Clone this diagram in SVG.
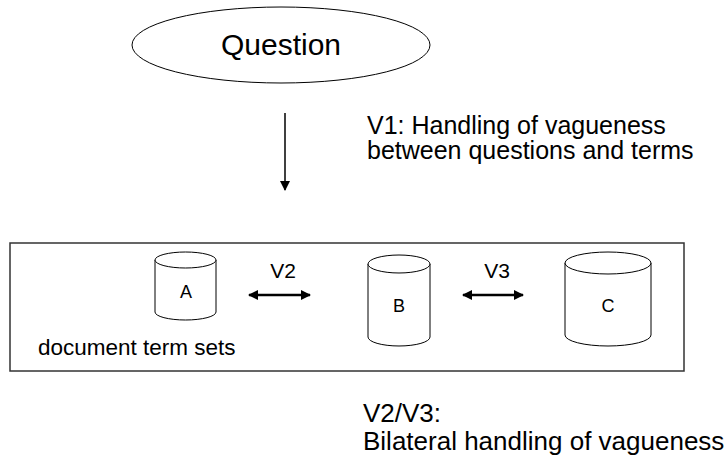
<svg xmlns="http://www.w3.org/2000/svg" width="725" height="459" viewBox="0 0 725 459">
<style>
text{font-family:"Liberation Sans",Arial,sans-serif;fill:#000}
.shape{fill:#fff;stroke:#000;stroke-width:1}
.lbl{font-size:18px;text-anchor:middle}
.v{font-size:21px;text-anchor:middle}
.big{font-size:25px}
.big2{font-size:26px}
</style>
<defs>
<marker id="ah" viewBox="0 0 10 10" refX="9" refY="5" markerWidth="10" markerHeight="10" markerUnits="userSpaceOnUse" orient="auto-start-reverse">
<path d="M0,0 L10,5 L0,10 z" fill="#000"/>
</marker>
<marker id="ah2" viewBox="0 0 10 10" refX="9" refY="5" markerWidth="4" markerHeight="4" orient="auto-start-reverse">
<path d="M0,0 L10,5 L0,10 z" fill="#000"/>
</marker>
</defs>
<g id="question">
<ellipse class="shape" cx="281" cy="45" rx="149" ry="38"/>
<text x="281" y="55" font-size="30" text-anchor="middle">Question</text>
</g>
<g id="v1label">
<text class="big" x="367" y="134">V1: Handling of vagueness</text>
<text class="big" x="367" y="159">between questions and terms</text>
</g>
<g id="termsets">
<rect x="10" y="243" width="674" height="128" fill="#fff" stroke="#333" stroke-width="1.5"/>
<text x="38" y="355" font-size="22.5">document term sets</text>
</g>
<g id="A">
<path class="shape" d="M155,260 A30.5,8 0 0 1 216,260 L216,312 A30.5,8 0 0 1 155,312 Z"/>
<path class="shape" fill="none" d="M155,260 A30.5,8 0 0 0 216,260"/>
<text class="lbl" x="186" y="298">A</text>
</g>
<g id="B">
<path class="shape" d="M368,264 A31,9 0 0 1 430,264 L430,337 A31,9 0 0 1 368,337 Z"/>
<path class="shape" fill="none" d="M368,264 A31,9 0 0 0 430,264"/>
<text class="lbl" x="399" y="312">B</text>
</g>
<g id="C">
<path class="shape" d="M565,263 A43,11 0 0 1 651,263 L651,335 A43,11 0 0 1 565,335 Z"/>
<path class="shape" fill="none" d="M565,263 A43,11 0 0 0 651,263"/>
<text class="lbl" x="608" y="312">C</text>
</g>
<g id="connectors">
<line x1="285" y1="113" x2="285" y2="190" stroke="#000" stroke-width="1.5" marker-end="url(#ah)"/>
<line x1="249" y1="295" x2="310" y2="295" stroke="#000" stroke-width="2.5" marker-start="url(#ah2)" marker-end="url(#ah2)"/>
<line x1="463" y1="295" x2="523" y2="295" stroke="#000" stroke-width="2.5" marker-start="url(#ah2)" marker-end="url(#ah2)"/>
<text class="v" x="283" y="278">V2</text>
<text class="v" x="497" y="278">V3</text>
</g>
<g id="v23label">
<text class="big2" x="363" y="422">V2/V3:</text>
<text class="big2" x="363" y="450">Bilateral handling of vagueness</text>
</g>
</svg>
